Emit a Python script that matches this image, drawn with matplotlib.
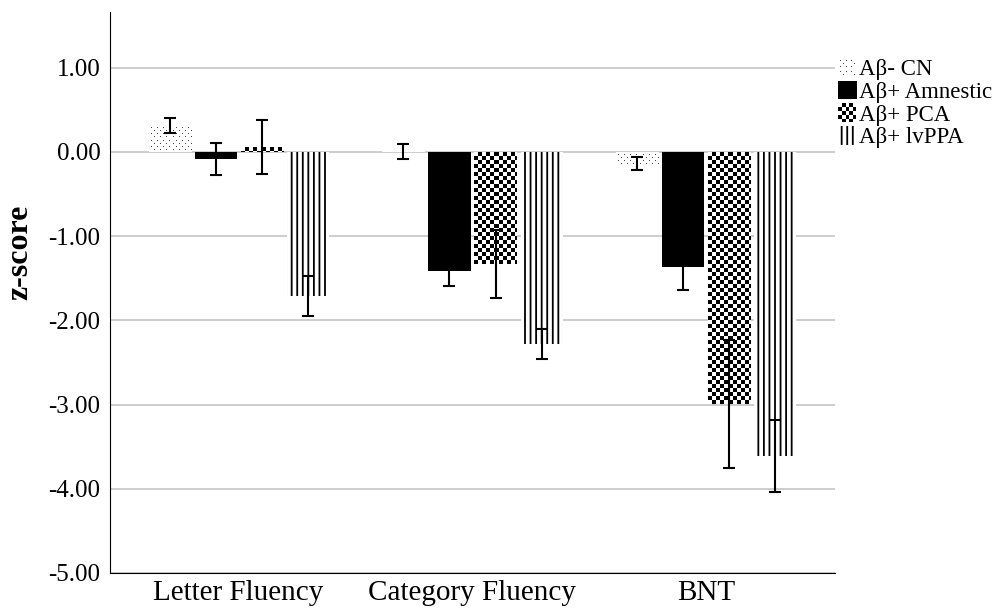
import numpy as np
import matplotlib
matplotlib.use("Agg")
import matplotlib.pyplot as plt
from matplotlib.patches import Rectangle
from matplotlib.colors import ListedColormap
from matplotlib.legend_handler import HandlerBase

plt.rcParams["font.family"] = ["Liberation Serif", "DejaVu Serif"]
plt.rcParams["hatch.linewidth"] = 1.3

tests = ["Letter Fluency", "Category Fluency", "BNT"]
groups = ["Aβ- CN", "Aβ+ Amnestic", "Aβ+ PCA", "Aβ+ lvPPA"]

cn_mean = [0.31, 0.01, -0.14]
amn_mean = [-0.08, -1.41, -1.37]
pca_mean = [0.06, -1.33, -2.99]
ppa_mean = [-1.71, -2.28, -3.61]

cn_err = [0.09, 0.09, 0.08]
amn_err = [0.19, 0.18, 0.27]
pca_err = [0.32, 0.40, 0.76]
ppa_err = [0.235, 0.18, 0.43]

means = [cn_mean, amn_mean, pca_mean, ppa_mean]
errs = [cn_err, amn_err, pca_err, ppa_err]


def checker(nx, ny):
    # 4 px squares
    yy, xx = np.indices((ny, nx))
    return ((xx // 4 + yy // 4) % 2).astype(float)


def dots(nx, ny):
    # sparse staggered 1 px dots
    yy, xx = np.indices((ny, nx))
    a = (xx % 6 == 2) & (yy % 6 == 2)
    b = (xx % 6 == 5) & (yy % 6 == 5)
    return (a | b).astype(float)


class PatternHandler(HandlerBase):
    def __init__(self, func, color):
        super().__init__()
        self.func = func
        self.color = color

    def create_artists(self, legend, orig_handle, xdescent, ydescent,
                       width, height, fontsize, trans):
        n = 19
        arr = self.func(n, n)
        side = height
        cw = side / n
        x0, y0 = -xdescent, -ydescent
        arts = []
        for j in range(n):
            for i in range(n):
                if arr[j, i]:
                    arts.append(Rectangle((x0 + i * cw, y0 + side - (j + 1) * cw), cw, cw,
                                          facecolor=self.color, edgecolor="none",
                                          transform=trans))
        return arts


fig = plt.figure(figsize=(9.94, 6.10), dpi=100)
ax = fig.add_axes([0.1107, 0.0607, 0.7293, 0.9193])
ax.set_xlim(-0.55, 2.55)
ax.set_ylim(-5, 1.66)

x = np.arange(len(tests))
step = 0.197
width = 0.18
styles = [
    dict(facecolor="white", edgecolor="none", linewidth=0),
    dict(facecolor="black", edgecolor="black", linewidth=0),
    dict(facecolor="white", edgecolor="none", linewidth=0),
    dict(facecolor="white", edgecolor="black", hatch="|||", linewidth=0),
]
patterns = {0: (dots, "#444444"), 2: (checker, "black")}

handles = []
for k, (m, e, st) in enumerate(zip(means, errs, styles)):
    pos = x + (k - 1.5) * step
    bars = ax.bar(pos, m, width, zorder=2, **st)
    handles.append(bars[0])
    if k in patterns:
        func, col = patterns[k]
        for b in bars:
            x0, x1 = b.get_x(), b.get_x() + b.get_width()
            y0, y1 = sorted([b.get_y(), b.get_y() + b.get_height()])
            (px0, py0), (px1, py1) = ax.transData.transform([(x0, y0), (x1, y1)])
            nx = max(1, int(round(px1 - px0)))
            ny = max(1, int(round(py1 - py0)))
            im = ax.imshow(func(nx, ny), cmap=ListedColormap(["white", col]),
                           extent=(x0, x1, y0, y1), aspect="auto",
                           interpolation="nearest", zorder=2.5, vmin=0, vmax=1)
            im.set_clip_path(b)
    ax.errorbar(pos, m, yerr=e, fmt="none", ecolor="black", elinewidth=1.5,
                capsize=4, capthick=1.5, zorder=3)

ax.set_xlim(-0.55, 2.55)
ax.set_ylim(-5, 1.66)
yt = [1, 0, -1, -2, -3, -4, -5]
ax.set_yticks(yt)
ax.set_yticklabels([f"{v:.2f}" for v in yt])
ax.set_xticks(x)
ax.set_xticklabels(tests)
ax.tick_params(axis="both", length=0)
ax.tick_params(axis="y", pad=7, labelsize=18)
ax.tick_params(axis="x", pad=5, labelsize=21)
ax.yaxis.grid(True, color="#c0c0c0", linewidth=1.1, zorder=0)
ax.set_axisbelow(True)
for s in ["top", "right"]:
    ax.spines[s].set_visible(False)
ax.set_ylabel("z-score", fontsize=23, fontweight="bold")
ax.yaxis.set_label_coords(-0.104, 0.572)

fig.legend(handles, groups, loc="upper left", bbox_to_anchor=(0.843, 0.905),
           frameon=False, fontsize=16.5, handlelength=0.85, handleheight=0.85,
           handletextpad=0.05, labelspacing=0.03, borderaxespad=0, borderpad=0,
           handler_map={handles[0]: PatternHandler(dots, "#444444"),
                        handles[2]: PatternHandler(checker, "black")})

fig.savefig("out.png", dpi=100)
